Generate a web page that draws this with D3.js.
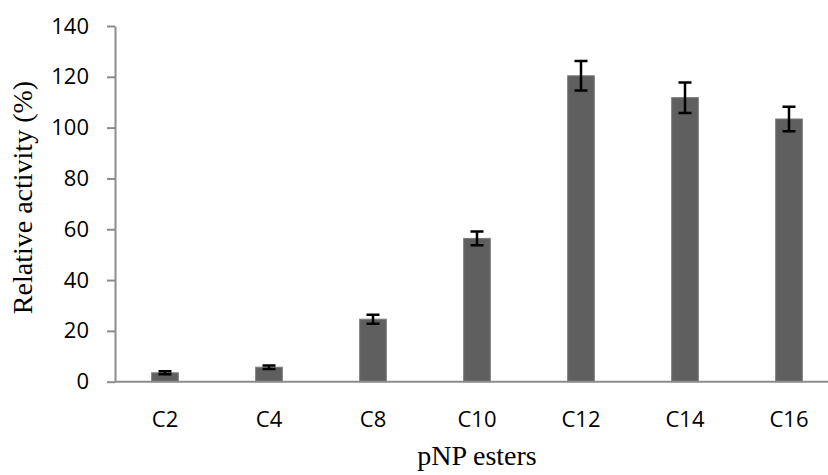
<!DOCTYPE html>
<html>
<head>
<meta charset="utf-8">
<script src="https://cdn.jsdelivr.net/npm/d3@7"></script>
<style>
  body { margin: 0; background: #fff; }
  .tick-label { font-family: "Open Sans", sans-serif; font-size: 22px; fill: #000; }
  .title { font-family: "Liberation Serif", serif; font-size: 28px; fill: #000; }
</style>
</head>
<body>
<div id="chart"></div>
<script>
var categories = ['C2', 'C4', 'C8', 'C10', 'C12', 'C14', 'C16'];
var activity = [3.5, 5.7, 24.6, 56.4, 120.4, 111.8, 103.4];
var errors = [0.6, 0.7, 1.8, 2.7, 5.8, 6.0, 4.8];
var yTicks = [0, 20, 40, 60, 80, 100, 120, 140];

var width = 828, height = 475;

var svg = d3.select('#chart').append('svg')
  .attr('width', width)
  .attr('height', height);

var x = d3.scaleBand()
  .domain(categories)
  .range([113, 841])
  .paddingInner(0.744)
  .paddingOuter(0.372);

var y = d3.scaleLinear()
  .domain([0, 140])
  .range([381.7, 26]);

var axisColor = '#8c8c8c';
var axisX = 115;

// y axis
var yAxis = svg.append('g')
  .attr('transform', 'translate(' + axisX + ',0)')
  .call(d3.axisLeft(y).tickValues(yTicks).tickSize(8).tickSizeOuter(0).tickPadding(18));
yAxis.select('.domain').attr('stroke', axisColor).attr('stroke-width', 2);
yAxis.selectAll('.tick line').attr('stroke', axisColor).attr('stroke-width', 2);
yAxis.selectAll('.tick text')
  .attr('class', 'tick-label')
  .attr('font-family', null)
  .attr('font-size', null);

// bars
svg.append('g').selectAll('rect')
  .data(activity)
  .enter().append('rect')
  .attr('x', function(d, i) { return x(categories[i]); })
  .attr('y', function(d) { return y(d); })
  .attr('width', x.bandwidth())
  .attr('height', function(d) { return y(0) - y(d); })
  .attr('fill', '#5f5f5f')
  .attr('stroke', '#7a7a7a')
  .attr('stroke-width', 1);

// x axis line (drawn on top of bar bottoms)
svg.append('line')
  .attr('x1', axisX).attr('x2', width + 20)
  .attr('y1', y(0)).attr('y2', y(0))
  .attr('stroke', axisColor)
  .attr('stroke-width', 2);

// error bars
var capW = 13;
var err = svg.append('g').attr('stroke', '#000').attr('stroke-width', 2.5).attr('fill', 'none');
err.selectAll('path')
  .data(activity)
  .enter().append('path')
  .attr('d', function(d, i) {
    var cx = x(categories[i]) + x.bandwidth() / 2;
    var top = y(d + errors[i]), bot = y(d - errors[i]);
    return 'M' + (cx - capW / 2) + ' ' + top + 'H' + (cx + capW / 2) +
      'M' + cx + ' ' + top + 'V' + bot +
      'M' + (cx - capW / 2) + ' ' + bot + 'H' + (cx + capW / 2);
  });

// x labels
svg.append('g').selectAll('text')
  .data(categories)
  .enter().append('text')
  .attr('class', 'tick-label')
  .attr('x', function(d) { return x(d) + x.bandwidth() / 2; })
  .attr('y', 426.5)
  .attr('text-anchor', 'middle')
  .text(function(d) { return d; });

// axis titles
svg.append('text')
  .attr('class', 'title')
  .attr('x', 477)
  .attr('y', 465)
  .attr('text-anchor', 'middle')
  .text('pNP esters');

svg.append('text')
  .attr('class', 'title')
  .attr('transform', 'translate(32,197.5) rotate(-90)')
  .attr('text-anchor', 'middle')
  .text('Relative activity (%)');
</script>
</body>
</html>
